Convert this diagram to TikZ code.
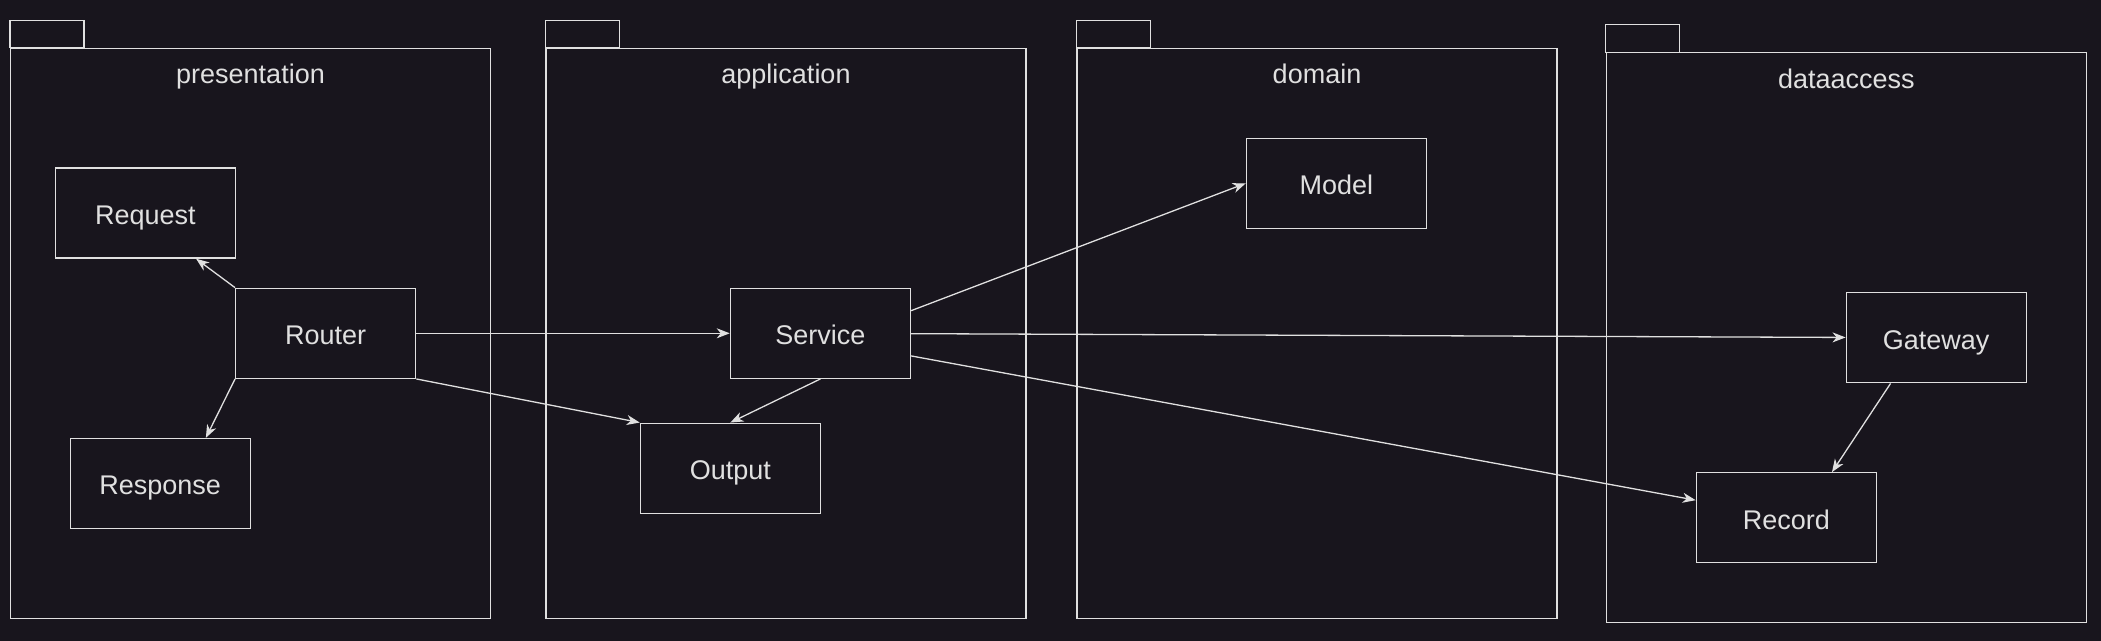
\documentclass[tikz,border=0pt]{standalone}
\usepackage{fontspec}
\setmainfont{Liberation Sans}
\usetikzlibrary{arrows.meta, positioning}
\definecolor{canvas}{RGB}{24,21,29}
\definecolor{ink}{RGB}{224,224,224}

\begin{document}
\begin{tikzpicture}[x=1pt, y=-1pt, color=ink, line width=1.3pt,
                    font=\fontsize{27pt}{32pt}\selectfont]

    \useasboundingbox (0,0) rectangle (2101,640); % size of the exported png, y runs downwards
    \fill [canvas] (-5,-5) rectangle (2106,645);

    % packages: big frame, tab on its top left corner, name inside
    \begin{scope}[every node/.style={draw, minimum width=480pt, minimum height=570pt, inner sep=0pt}]
        \node (pres) at (250.5, 333.3) {};
        \node (app)  at (786.0, 333.3) {};
        \node (dom)  at (1317.0, 333.3) {};
        \node (data) at (1846.3, 337.8) {}; % sits a bit lower than the others
    \end{scope}

    \foreach \p in {pres, app, dom, data}  \draw (\p.north west) rectangle ++(74,-27.4);

    \begin{scope}[every node/.style={inner sep=0pt}]
        \node (presT) [below = 16pt of pres.north] {presentation};
        \node (appT)  [below = 16pt of app.north]  {application};
        \node (domT)  [below = 16pt of dom.north]  {domain};
        \node (dataT) [below = 16pt of data.north] {dataaccess};
    \end{scope}

    % classes, 180 x 90 boxes at fixed positions, same baseline whatever the letters
    \begin{scope}[every node/.style={draw, minimum width=180pt, minimum height=90pt,
                                     text height=22.4pt, text depth=0pt}]
        \node (request)  at (145.4, 213.1)  {Request};
        \node (router)   at (325.7, 333.3)  {Router};
        \node (response) at (160.2, 483.5)  {Response};
        \node (service)  at (820.4, 333.3)  {Service};
        \node (output)   at (730.4, 468.2)  {Output};
        \node (model)    at (1336.4, 183.3) {Model};
        \node (gateway)  at (1936.2, 337.8) {Gateway};
        \node (record)   at (1786.3, 517.8) {Record};
    \end{scope}

    % dependencies
    \begin{scope}[every path/.style={-{Stealth[length=13pt, width=10pt, inset=4pt]}}]
        \draw (router.north west) -- (request.-42);
        \draw (router.south west) -- (response.45);
        \draw (router) -- (service);
        \draw (router.south east) -- (output.north west);
        \draw (service.south) -- (output.north);
        \draw (service.14) -- (model.west);
        \draw (service) -- (gateway);
        \draw (service.-14) -- (record.169);
        \draw (gateway.-135) -- (record.45);
    \end{scope}

\end{tikzpicture}
\end{document}
